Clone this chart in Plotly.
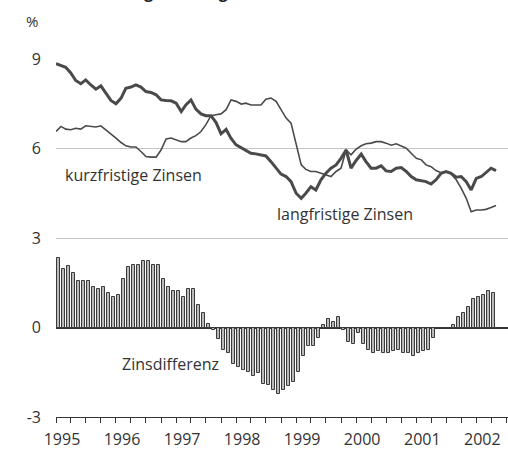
import plotly.graph_objects as go

# Monthly observation dates (line values at month start, Jan 1995 - May 2002)
line_months = [f"{1995 + k // 12}-{k % 12 + 1:02d}-01" for k in range(89)]
# Bars: one per month, Jan 1995 - Apr 2002
bar_months = line_months[:88]

long_rates = [
    8.84, 8.77, 8.72, 8.53, 8.28, 8.17, 8.30, 8.13, 7.99, 8.10,
    7.86, 7.61, 7.50, 7.69, 8.02, 8.06, 8.13, 8.06, 7.91, 7.88,
    7.80, 7.63, 7.61, 7.60, 7.52, 7.24, 7.46, 7.63, 7.32, 7.16,
    7.10, 7.10, 6.87, 6.49, 6.64, 6.34, 6.12, 6.03, 5.95, 5.84,
    5.82, 5.79, 5.75, 5.56, 5.34, 5.14, 5.06, 4.89, 4.50, 4.33,
    4.50, 4.72, 4.61, 4.95, 5.17, 5.34, 5.45, 5.67, 5.95, 5.34,
    5.60, 5.81, 5.56, 5.34, 5.34, 5.42, 5.25, 5.23, 5.34, 5.36,
    5.23, 5.06, 4.95, 4.91, 4.89, 4.81, 4.95, 5.17, 5.23, 5.17,
    5.04, 5.06, 4.89, 4.61, 5.00, 5.06, 5.19, 5.34, 5.26,
]

short_rates = [
    6.57, 6.74, 6.65, 6.63, 6.68, 6.65, 6.76, 6.74, 6.72, 6.76,
    6.63, 6.49, 6.35, 6.20, 6.09, 6.05, 6.05, 5.90, 5.73, 5.71,
    5.71, 5.95, 6.32, 6.35, 6.29, 6.23, 6.23, 6.35, 6.43, 6.57,
    6.80, 7.10, 7.13, 7.16, 7.30, 7.63, 7.58, 7.49, 7.52, 7.46,
    7.46, 7.46, 7.65, 7.69, 7.58, 7.30, 7.02, 6.85, 6.18, 5.45,
    5.30, 5.23, 5.23, 5.17, 5.11, 5.06, 5.23, 5.34, 5.95, 5.79,
    5.98, 6.09, 6.16, 6.18, 6.23, 6.23, 6.18, 6.11, 6.16, 6.09,
    6.01, 5.84, 5.67, 5.62, 5.45, 5.39, 5.26, 5.19, 5.23, 5.15,
    4.95, 4.67, 4.33, 3.88, 3.94, 3.94, 3.96, 4.02, 4.09,
]

spread = [
    2.32, 1.96, 2.05, 1.83, 1.57, 1.57, 1.57, 1.36, 1.29, 1.36,
    1.16, 1.02, 1.10, 1.62, 2.04, 2.10, 2.10, 2.24, 2.24, 2.10,
    2.10, 1.62, 1.36, 1.23, 1.23, 1.02, 1.29, 1.29, 0.75, 0.48,
    0.13, -0.07, -0.40, -0.74, -0.87, -1.21, -1.34, -1.41, -1.49, -1.62,
    -1.54, -1.88, -1.94, -2.08, -2.22, -2.08, -1.97, -1.83, -1.49, -0.95,
    -0.62, -0.62, -0.34, 0.07, 0.27, 0.18, 0.35, -0.07, -0.48, -0.54,
    -0.20, -0.54, -0.74, -0.87, -0.80, -0.87, -0.87, -0.80, -0.74, -0.87,
    -0.87, -0.94, -0.87, -0.80, -0.74, -0.34, 0.0, 0.0, 0.0, 0.07,
    0.35, 0.47, 0.68, 0.95, 1.02, 1.09, 1.23, 1.16,
]

y_ticks = [-3, 0, 3, 6, 9]
y_tick_text = ["-3", "0", "3", "6", "9"]

title_text = "Zinsentwicklung im Eurogebiet"
label_short = "kurzfristige Zinsen"
label_long = "langfristige Zinsen"
label_spread = "Zinsdifferenz"
unit_label = "%"

FONT = "Open Sans, Noto Sans, sans-serif"
TXT = "#333333"
LINE = "#4a4a4a"

fig = go.Figure()

fig.add_trace(go.Bar(
    x=bar_months, y=spread,
    xperiod="M1", xperiodalignment="middle",
    width=20 * 24 * 3600 * 1000,
    marker=dict(color="#bababa", line=dict(color="#3a3a3a", width=1)),
    showlegend=False, hoverinfo="skip",
))

fig.add_trace(go.Scatter(
    x=line_months, y=short_rates, mode="lines",
    line=dict(color=LINE, width=1.6),
    showlegend=False, hoverinfo="skip",
))

fig.add_trace(go.Scatter(
    x=line_months, y=long_rates, mode="lines",
    line=dict(color=LINE, width=3),
    showlegend=False, hoverinfo="skip",
))

fig.update_layout(
    width=508, height=450,
    margin=dict(l=56, r=0, t=59, b=33, autoexpand=False),
    paper_bgcolor="white", plot_bgcolor="white",
    font=dict(family=FONT, size=16, color=TXT),
    bargap=0,
    xaxis=dict(
        type="date", automargin=False,
        range=["1995-01-01", "2002-07-13"],
        showline=True, linecolor="#333333", linewidth=1.3,
        ticks="outside", ticklen=5, tickwidth=1, tickcolor="#333333",
        tick0="1995-01-01", dtick="M12", tickformat="%Y",
        ticklabelshift=6, ticklabelstandoff=3,
        tickfont=dict(size=16, color=TXT, family=FONT),
        showgrid=False, zeroline=False,
        minor=dict(tick0="1995-01-01", dtick="M3", ticks="outside",
                   ticklen=5, tickwidth=1, tickcolor="#333333", showgrid=False),
        fixedrange=True,
    ),
    yaxis=dict(
        automargin=False,
        range=[-3, 9],
        tickvals=y_ticks, ticktext=y_tick_text,
        showgrid=True, gridcolor="#c4c4c4", gridwidth=1,
        zeroline=True, zerolinecolor="#333333", zerolinewidth=1.5,
        showline=False, ticks="",
        ticklabelstandoff=14,
        tickfont=dict(size=16, color=TXT, family=FONT),
        fixedrange=True,
    ),
    annotations=[
        dict(text=label_short, x="1996-04-18", y=5.11, xref="x", yref="y",
             showarrow=False, font=dict(size=16, color=TXT, family=FONT)),
        dict(text=label_long, x="1999-10-24", y=3.79, xref="x", yref="y",
             showarrow=False, font=dict(size=16, color=TXT, family=FONT)),
        dict(text=label_spread, x="1996-11-28", y=-1.23, xref="x", yref="y",
             showarrow=False, font=dict(size=16, color=TXT, family=FONT)),
        dict(text=unit_label, x=-0.053, y=1.106, xref="paper", yref="paper",
             xanchor="center", yanchor="middle",
             showarrow=False, font=dict(size=15, color=TXT, family=FONT)),
        dict(text="<b>" + title_text + "</b>", x=-0.0796, y=1.1508,
             xref="paper", yref="paper", xanchor="left", yanchor="bottom",
             showarrow=False, font=dict(size=16, color="#222222", family=FONT)),
    ],
)

fig.write_html("out.html", config={"displayModeBar": False},
               post_script="document.body.style.margin='0';")
